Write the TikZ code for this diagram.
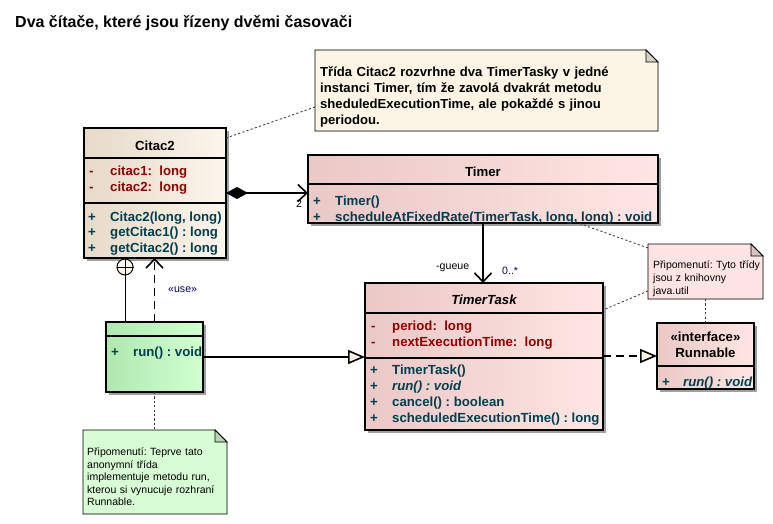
\documentclass[tikz,border=0pt]{standalone}
\usepackage{fontspec}
\setmainfont{Liberation Sans}
\usetikzlibrary{arrows.meta,shadows}
\frenchspacing
\definecolor{attrc}{RGB}{145,0,0}
\definecolor{methc}{RGB}{0,62,80}
\definecolor{citL}{RGB}{230,218,200}
\definecolor{citR}{RGB}{252,246,236}
\definecolor{pinkL}{RGB}{234,200,198}
\definecolor{pinkR}{RGB}{255,230,228}
\definecolor{grnL}{RGB}{176,232,176}
\definecolor{grnR}{RGB}{208,255,208}
\definecolor{noteA}{RGB}{252,244,228}
\definecolor{noteB}{RGB}{255,228,228}
\definecolor{noteC}{RGB}{216,252,212}
\definecolor{tric}{RGB}{255,242,226}
\definecolor{lblc}{RGB}{0,0,90}
\definecolor{shad}{RGB}{160,160,160}
\begin{document}
\begin{tikzpicture}[x=1pt,y=-1pt,
  cls/.style={draw=black, line width=1.6pt, inner sep=0pt, outer sep=0pt, anchor=north west,
     drop shadow={shadow xshift=3pt, shadow yshift=-3pt, fill=shad, opacity=1}},
  citbox/.style={cls, left color=citL, right color=citR},
  pinkbox/.style={cls, left color=pinkL, right color=pinkR},
  grnbox/.style={cls, left color=grnL, right color=grnR},
  div/.style={line width=1.6pt},
  ntanchor/.style={inner sep=0pt, outer sep=0pt, anchor=north west},
  noteline/.style={line width=0.9pt, draw=black},
  cf/.style={font=\fontsize{13.2}{15}\selectfont\bfseries},
  cfi/.style={font=\fontsize{13.2}{15}\selectfont\bfseries\itshape},
  txt/.style={cf, inner sep=0pt, anchor=base west},
  hdr/.style={cf, inner sep=0pt, anchor=base},
  attr/.style={txt, text=attrc},
  meth/.style={txt, text=methc},
  lbl/.style={font=\fontsize{10.6}{12}\selectfont, inner sep=0pt, anchor=west},
  dotl/.style={line width=0.8pt, dash pattern=on 2.2pt off 2.2pt, black!80},
  dsh/.style={line width=1.6pt, dash pattern=on 8pt off 5pt},
  assoc/.style={line width=1.6pt},
  barb/.style={-{Straight Barb[length=9pt,width=17pt,line width=1.6pt]}},
  gen/.style={-{Triangle[length=17pt,width=14pt,fill=tric,line width=1.6pt]}}
]
\useasboundingbox[fill=white] (0,0) rectangle (773,524);

% title
\node[anchor=base west, font=\fontsize{16}{18}\selectfont\bfseries, inner sep=0pt] (title) at (15,28) {Dva čítače, které jsou řízeny dvěmi časovači};

% ---------- notes ----------
\node[ntanchor, minimum width=343pt, minimum height=81pt] (n1) at (315,50) {};
\node[ntanchor, minimum width=115pt, minimum height=55pt] (n2) at (648,244) {};
\node[ntanchor, minimum width=144pt, minimum height=84pt] (n3) at (83,430) {};

\begin{scope}[shift={(3,3)}]
\fill[shad] (n1.north west) -- ([xshift=-12pt]n1.north east) -- ([yshift=-12pt]n1.north east) -- (n1.south east) -- (n1.south west) -- cycle;
\fill[shad] (n2.north west) -- ([xshift=-12pt]n2.north east) -- ([yshift=-12pt]n2.north east) -- (n2.south east) -- (n2.south west) -- cycle;
\fill[shad] (n3.north west) -- ([xshift=-12pt]n3.north east) -- ([yshift=-12pt]n3.north east) -- (n3.south east) -- (n3.south west) -- cycle;
\end{scope}
\draw[noteline, fill=noteA] (n1.north west) -- ([xshift=-12pt]n1.north east) -- ([yshift=-12pt]n1.north east) -- (n1.south east) -- (n1.south west) -- cycle;
\draw[noteline, fill=noteA!85!black] ([xshift=-12pt]n1.north east) -- ([xshift=-12pt,yshift=-12pt]n1.north east) -- ([yshift=-12pt]n1.north east) -- cycle;
\draw[noteline, fill=noteB] (n2.north west) -- ([xshift=-12pt]n2.north east) -- ([yshift=-12pt]n2.north east) -- (n2.south east) -- (n2.south west) -- cycle;
\draw[noteline, fill=noteB!85!black] ([xshift=-12pt]n2.north east) -- ([xshift=-12pt,yshift=-12pt]n2.north east) -- ([yshift=-12pt]n2.north east) -- cycle;
\draw[noteline, fill=noteC] (n3.north west) -- ([xshift=-12pt]n3.north east) -- ([yshift=-12pt]n3.north east) -- (n3.south east) -- (n3.south west) -- cycle;
\draw[noteline, fill=noteC!85!black] ([xshift=-12pt]n3.north east) -- ([xshift=-12pt,yshift=-12pt]n3.north east) -- ([yshift=-12pt]n3.north east) -- cycle;

\node[inner sep=0pt, anchor=base west, text width=335pt, align=left,
      font=\fontsize{13.1}{16}\selectfont\bfseries] (n1t) at (320,76.5)
  {Třída Citac2 rozvrhne dva TimerTasky v jedné\\instanci Timer, tím že zavolá dvakrát metodu\\sheduledExecutionTime, ale pokaždé s jinou\\periodou.};
\node[inner sep=0pt, anchor=base west, text width=112pt, align=left,
      font=\fontsize{10.5}{13}\selectfont] (n2t) at (653,268)
  {Připomenutí: Tyto třídy\\jsou z knihovny\\java.util};
\node[inner sep=0pt, anchor=base west, text width=140pt, align=left,
      font=\fontsize{10.5}{12.5}\selectfont] (n3t) at (87,455.5)
  {Připomenutí: Teprve tato\\anonymní třída\\implementuje metodu run,\\kterou si vynucuje rozhraní\\Runnable.};

% ---------- classes ----------
\node[citbox, minimum width=142pt, minimum height=130pt] (citac) at (84,128) {};
\draw[div] (citac.north west) ++(0,30) -- ++(142,0);
\draw[div] (citac.north west) ++(0,75) -- ++(142,0);
\node[hdr] (citacH) at (155,150) {Citac2};
\node[attr] (cam1) at (89,175.5) {-};
\node[attr] (ca1) at (110,175.5) {citac1:\ \ long};
\node[attr] (cam2) at (89,191) {-};
\node[attr] (ca2) at (110,191) {citac2:\ \ long};
\node[meth] (cmp1) at (88,221) {+};
\node[meth] (cm1) at (110,221) {Citac2(long, long)};
\node[meth] (cmp2) at (88,236.5) {+};
\node[meth] (cm2) at (110,236.5) {getCitac1() : long};
\node[meth] (cmp3) at (88,252) {+};
\node[meth] (cm3) at (110,252) {getCitac2() : long};

\node[pinkbox, minimum width=350pt, minimum height=68pt] (timer) at (308,155) {};
\draw[div] (timer.north west) ++(0,29) -- ++(350,0);
\node[hdr] (timerH) at (483,176.5) {Timer};
\node[meth] (tmp1) at (313,205) {+};
\node[meth] (tm1) at (335,205) {Timer()};
\node[meth] (tmp2) at (313,221) {+};
\node[meth] (tm2) at (335,221) {scheduleAtFixedRate(TimerTask, long, long) : void};

\node[pinkbox, minimum width=238pt, minimum height=147pt] (task) at (365,283) {};
\draw[div] (task.north west) ++(0,30) -- ++(238,0);
\draw[div] (task.north west) ++(0,75) -- ++(238,0);
\node[hdr, cfi] (taskH) at (484,304.5) {TimerTask};
\node[attr] (tam1) at (371,330.5) {-};
\node[attr] (ta1) at (392,330.5) {period:\ \ long};
\node[attr] (tam2) at (371,346) {-};
\node[attr] (ta2) at (392,346) {nextExecutionTime:\ \ long};
\node[meth] (tkp1) at (370,374) {+};
\node[meth] (tk1) at (392,374) {TimerTask()};
\node[meth] (tkp2) at (370,390) {+};
\node[meth, cfi] (tk2) at (392,390) {run() : void};
\node[meth] (tkp3) at (370,406) {+};
\node[meth] (tk3) at (392,406) {cancel() : boolean};
\node[meth] (tkp4) at (370,422) {+};
\node[meth] (tk4) at (392,422) {scheduledExecutionTime() : long};

\node[pinkbox, minimum width=97pt, minimum height=66pt] (run) at (657,323) {};
\draw[div] (run.north west) ++(0,43) -- ++(97,0);
\node[hdr] (runS) at (705.5,341.5) {«interface»};
\node[hdr] (runH) at (705.5,357) {Runnable};
\node[meth] (rmp) at (662,386.5) {+};
\node[meth, cfi] (rm) at (683,386.5) {run() : void};

\node[grnbox, minimum width=97pt, minimum height=70pt] (anon) at (106,322) {};
\draw[div] (anon.north west) ++(0,14) -- ++(97,0);
\node[meth] (amp) at (111,356.5) {+};
\node[meth] (am) at (133,356.5) {run() : void};

% ---------- connectors ----------
\draw[assoc, {Diamond[length=22pt,width=12pt,fill=black,line width=1pt]}-{Straight Barb[length=9pt,width=17pt,line width=1.6pt]}]
  (citac.east) -- (citac.east -| timer.west);
\node[lbl, text=black] (mult2) at (296,203.5) {2};

\draw[assoc, barb] (timer.south) -- (timer.south |- task.north);
\node[lbl] (gueue) at (436,268) {-gueue};
\node[lbl, text=lblc] (mult0) at (502,271) {0..*};

\node[circle, draw=black, line width=1pt, fill=citR, minimum size=16pt, inner sep=0pt] (nest) at (125,267) {};
\draw[line width=1pt] (nest.north) -- (nest.south);
\draw[line width=1pt] (nest.west) -- (nest.east);
\draw[line width=1pt] (nest.south) -- (nest.south |- anon.north);

\draw[dsh, barb] (anon.north) -- (anon.north |- citac.south);
\node[lbl, text=lblc] (use) at (168,290) {«use»};

\draw[assoc, gen] (anon.east) -- (anon.east -| task.west);
\draw[dsh, gen] (task.east |- run.west) -- (run.west);

\draw[dotl] ([yshift=-16.5pt]n1.west) -- ([yshift=-10pt]citac.north east);
\draw[dotl] ([yshift=-4pt]n2.north west) -- ([xshift=-80pt]timer.south east);
\draw[dotl] ([yshift=8pt]n2.south west) -- ([yshift=-27pt]task.north east);
\draw[dotl] (n2.south) -- (run.north);
\draw[dotl] (anon.south) -- (anon.south |- n3.north);
\end{tikzpicture}
\end{document}
